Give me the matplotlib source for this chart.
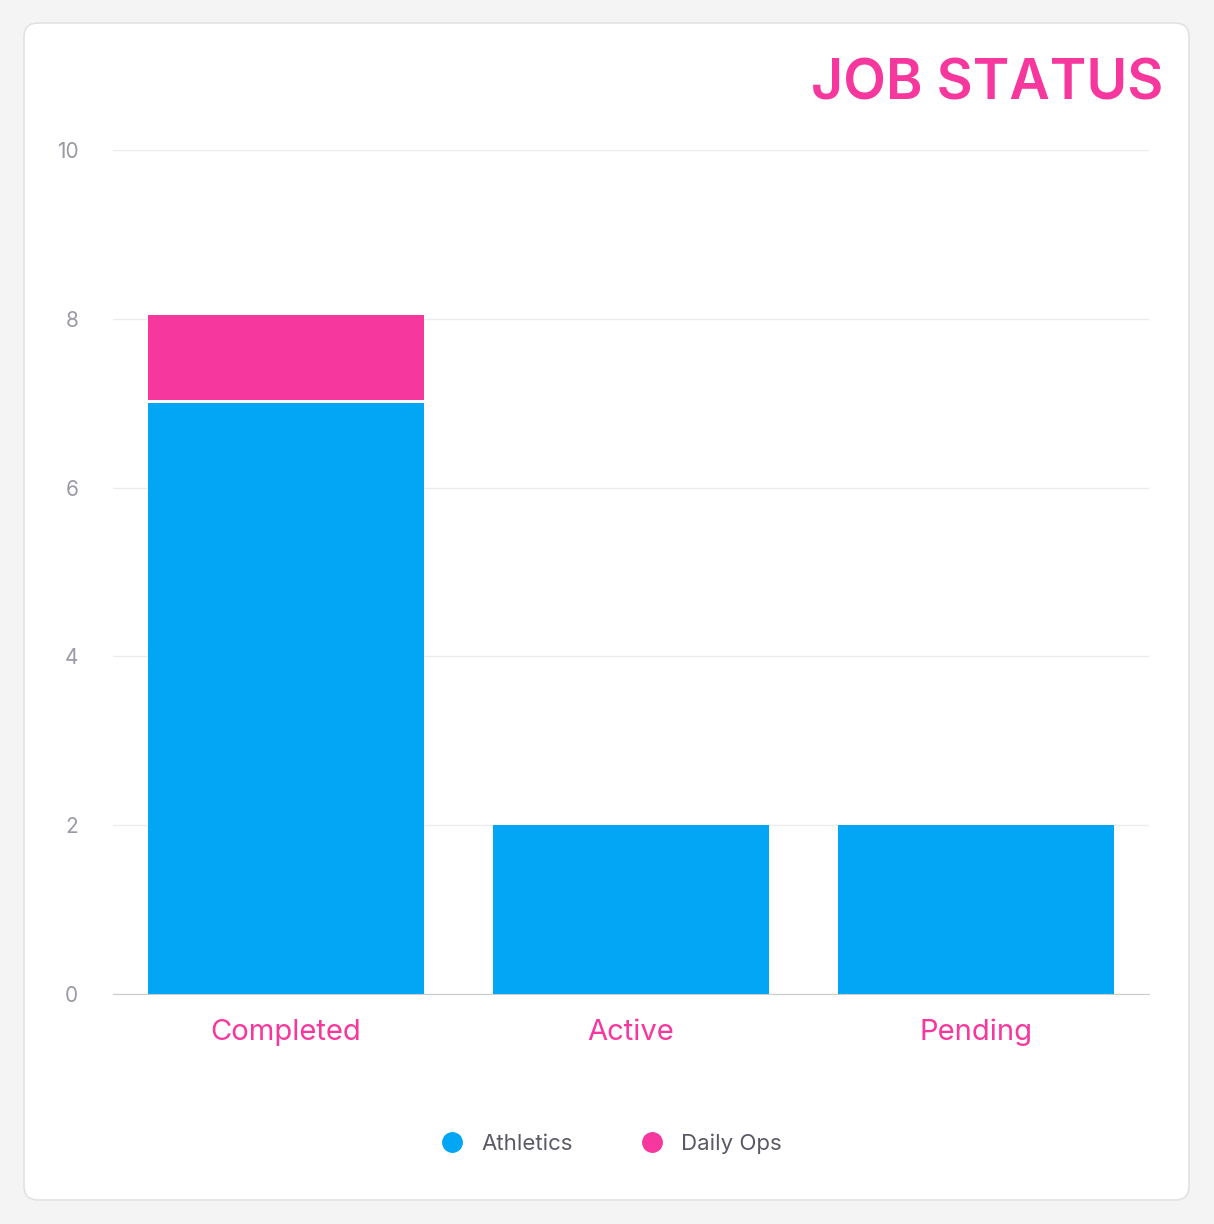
import matplotlib
matplotlib.use('Agg')
import matplotlib.pyplot as plt
from matplotlib.patches import FancyBboxPatch
from matplotlib.lines import Line2D

categories = ["Completed", "Active", "Pending"]
athletics = [7, 2, 2]
daily_ops = [1, 0, 0]
series_names = ["Athletics", "Daily Ops"]
yticks = [0, 2, 4, 6, 8, 10]

BLUE = '#02a6f4'
PINK = '#f6379d'
W, H = 1214, 1224

plt.rcParams['font.family'] = ['Inter', 'DejaVu Sans']
fig = plt.figure(figsize=(W/100, H/100), dpi=100)
fig.patch.set_facecolor('#f4f4f4')

# card background in its own axes underneath
bg = fig.add_axes([0, 0, 1, 1], zorder=-5)
bg.set_axis_off()
bg.set_xlim(0, W); bg.set_ylim(H, 0)
bg.add_patch(FancyBboxPatch((24, 23), 1189-24, 1200-23,
                            boxstyle="round,pad=0,rounding_size=14",
                            facecolor='white', edgecolor='#e2e2e2', lw=1.2))

ax = fig.add_axes([113/W, 1-994/H, (1149-113)/W, (994-150)/H], zorder=1)
ax.set_facecolor('none')
x = range(len(categories))
ax.bar(x, athletics, width=0.8, color=BLUE, lw=0, zorder=3)
nz = [i for i in x if daily_ops[i] > 0]
ax.bar(nz, [daily_ops[i] for i in nz], bottom=[athletics[i] + 0.04 for i in nz],
       width=0.8, color=PINK, lw=0, zorder=3)
ax.set_xlim(-0.5, 2.5)
ax.set_ylim(0, 10)
ax.set_yticks(yticks)
ax.set_yticklabels([str(v) for v in yticks], color='#9a9aa6', fontsize=15)
ax.set_xticks(list(x))
ax.set_xticklabels(categories, color=PINK, fontsize=21)
ax.tick_params(axis='y', length=0, pad=25)
ax.tick_params(axis='x', length=0, pad=18)
ax.grid(axis='y', color='#ececec', lw=1, zorder=0)
ax.set_axisbelow(True)
for s in ['top', 'right', 'left']:
    ax.spines[s].set_visible(False)
ax.spines['bottom'].set_color('#cccccc')

fig.text(1163/W, 1-85/H, "JOB STATUS", color=PINK, fontsize=40,
         ha='right', va='center', fontweight='semibold')

handles = [Line2D([], [], marker='o', ls='', markersize=14, color=c)
           for c in [BLUE, PINK]]
fig.legend(handles, series_names, loc='center', bbox_to_anchor=(606/W, 1-1144/H),
           ncol=2, frameon=False, fontsize=16, labelcolor='#5a5a66',
           columnspacing=2.6, handletextpad=0.3)

fig.savefig('out.png', dpi=100, facecolor=fig.get_facecolor())
